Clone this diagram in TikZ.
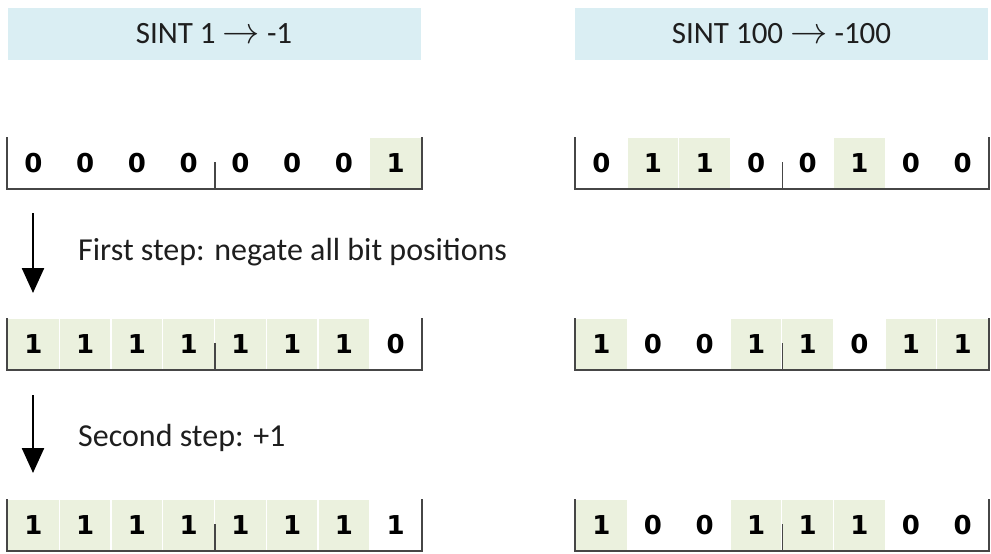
\documentclass[tikz,border=0pt]{standalone}
\usepackage{fontspec}
\setmainfont{Carlito}
\newfontfamily\bitfont{DejaVu Sans}
\usetikzlibrary{arrows.meta}
\definecolor{hdrblue}{RGB}{218,238,243}
\definecolor{bitgreen}{RGB}{235,241,222}
\definecolor{framegrey}{RGB}{70,70,70}
\definecolor{txtgrey}{RGB}{30,30,30}
\newcommand{\toarrow}{\scalebox{1.5}{$\rightarrow$}}
\begin{document}
\begin{tikzpicture}[x=1pt,y=-1pt,
        hdr/.style={fill=hdrblue, minimum width=413pt, minimum height=52pt, inner sep=0pt, text=txtgrey, font=\fontsize{31}{34}\selectfont},
        bit/.style={draw=white, line width=1pt, minimum width=51.7pt, minimum height=51pt, inner sep=0pt, anchor=north west, font=\bitfont\bfseries\fontsize{26}{28}\selectfont},
        frame/.style={draw=framegrey, line width=1.5pt},
        steparrow/.style={-{Triangle[width=22pt,length=25pt]}, line width=2.5pt},
        note/.style={anchor=west, inner sep=0pt, text=txtgrey, font=\fontsize{32}{36}\selectfont}]
        \useasboundingbox (0,0) rectangle (991,554);
        % headers
        \node[hdr] (hl) at (214,34) {SINT 1 \toarrow{} -1};
        \node[hdr] (hr) at (781.5,34) {SINT 100 \toarrow{} -100};
        % left column
        \foreach \b/\f [count=\i] in {0/white,0/white,0/white,0/white,0/white,0/white,0/white,1/bitgreen}
          \node[bit, fill=\f] (L1\i) at ({7+(\i-1)*51.75},137) {\b};
        \foreach \b/\f [count=\i] in {1/bitgreen,1/bitgreen,1/bitgreen,1/bitgreen,1/bitgreen,1/bitgreen,1/bitgreen,0/white}
          \node[bit, fill=\f] (L2\i) at ({7+(\i-1)*51.75},318) {\b};
        \foreach \b/\f [count=\i] in {1/bitgreen,1/bitgreen,1/bitgreen,1/bitgreen,1/bitgreen,1/bitgreen,1/bitgreen,1/white}
          \node[bit, fill=\f] (L3\i) at ({7+(\i-1)*51.75},499) {\b};
        % right column
        \foreach \b/\f [count=\i] in {0/white,1/bitgreen,1/bitgreen,0/white,0/white,1/bitgreen,0/white,0/white}
          \node[bit, fill=\f] (R1\i) at ({575+(\i-1)*51.6},137) {\b};
        \foreach \b/\f [count=\i] in {1/bitgreen,0/white,0/white,1/bitgreen,1/bitgreen,0/white,1/bitgreen,1/bitgreen}
          \node[bit, fill=\f] (R2\i) at ({575+(\i-1)*51.6},318) {\b};
        \foreach \b/\f [count=\i] in {1/bitgreen,0/white,0/white,1/bitgreen,1/bitgreen,1/bitgreen,0/white,0/white}
          \node[bit, fill=\f] (R3\i) at ({575+(\i-1)*51.6},499) {\b};
        % brackets under the bytes
        \foreach \c in {L1,L2,L3,R1,R2,R3} {
          \draw[frame] (\c1.north west) |- (\c8.south east) -- (\c8.north east);
          \draw[frame] (\c4.south east) -- ++(0,-27);
        }
        % steps
        \coordinate (s1a) at (33,213);
        \coordinate (s1b) at (33,293);
        \coordinate (s2a) at (33,395);
        \coordinate (s2b) at (33,473);
        \draw[steparrow] (s1a) -- (s1b);
        \draw[steparrow] (s2a) -- (s2b);
        \node[note] (n1) at (78,252) {First step: negate all bit positions};
        \node[note] (n2) at (78,438) {Second step: +1};
\end{tikzpicture}
\end{document}
